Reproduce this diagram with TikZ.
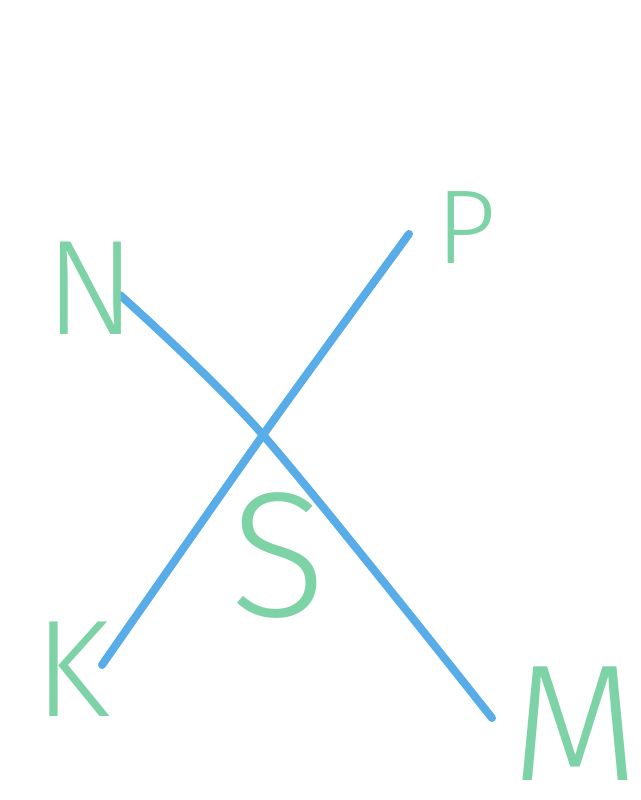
\documentclass[tikz,border=0pt]{standalone}
\usepackage{fontspec}
\setmainfont{Fira Sans Light}
\definecolor{lineblue}{HTML}{58ACE8}
\definecolor{letgreen}{HTML}{7ED3A6}
\begin{document}
\begin{tikzpicture}[x=1pt,y=1pt,
  seg/.style={draw=lineblue,line width=8pt,line cap=round,line join=round},
  letter/.style={text=letgreen,inner sep=0pt,font=\fontsize{#1}{#1}\selectfont}]
\useasboundingbox (0,0) rectangle (640,800);
\fill[white] (0,0) rectangle (640,800);
\coordinate (n1) at (120,505);
\coordinate (x) at (263,365);
\coordinate (m1) at (492,82);
\coordinate (k1) at (102,135);
\coordinate (p1) at (409,566);
\draw[seg] plot[smooth,tension=0.5] coordinates {(n1) (x) (m1)};
\draw[seg] plot[smooth,tension=0.5] coordinates {(k1) (x) (p1)};
\node[letter=135] (N) at (91,512) {N};
\node[letter=105] (P) at (466,572) {P};
\node[letter=138] (K) at (72,131) {K};
\node[letter=166] (M) at (575,76) {M};
\node[letter=178] (S) at (278,244) {S};
\end{tikzpicture}
\end{document}
